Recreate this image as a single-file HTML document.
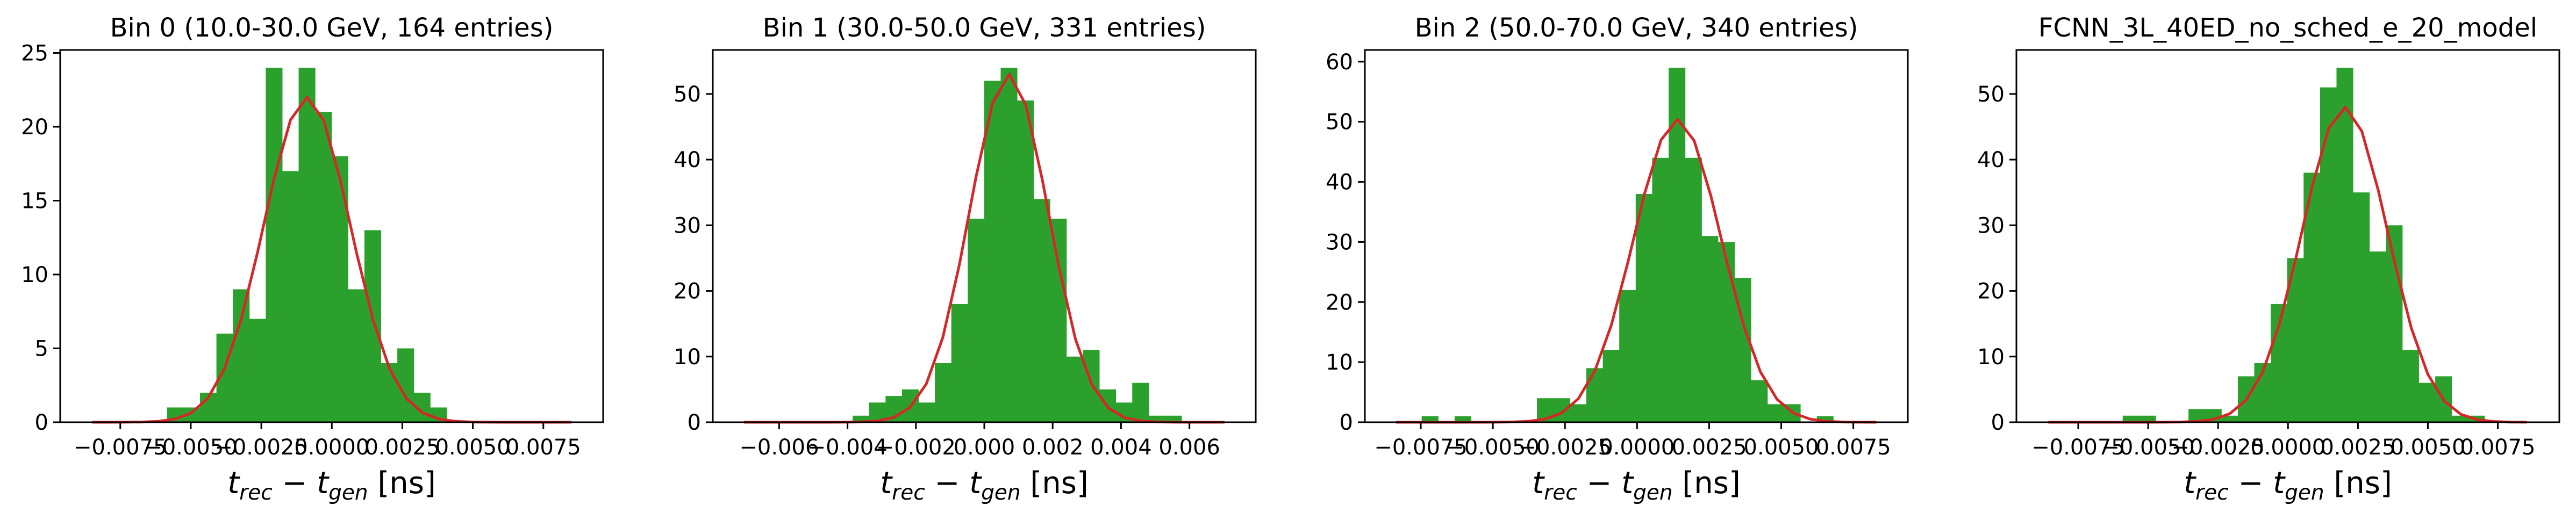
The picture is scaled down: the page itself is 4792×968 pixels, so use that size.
<!DOCTYPE html>
<html><head><meta charset="utf-8"><style>
html,body{margin:0;padding:0;background:#fff;}
svg{display:block;font-family:"DejaVu Sans","Liberation Sans",sans-serif;}
</style></head><body>
<svg id="fig" width="4792" height="968" viewBox="0 0 4792 968" xmlns="http://www.w3.org/2000/svg"></svg>
<script>
// ---- data (top level) ----
const titles = ["Bin 0 (10.0-30.0 GeV, 164 entries)","Bin 1 (30.0-50.0 GeV, 331 entries)","Bin 2 (50.0-70.0 GeV, 340 entries)","FCNN_3L_40ED_no_sched_e_20_model"];
const counts0 = [1,1,2,6,9,7,24,17,24,21,18,9,13,4,5,2,1];
const counts1 = [1,3,4,5,3,9,18,31,52,54,49,34,31,10,11,5,3,6,1,1];
const counts2 = [1,0,1,0,0,0,0,4,4,3,9,12,22,38,44,59,44,31,30,24,7,3,3,0,1];
const counts3 = [1,1,0,0,2,2,1,7,9,18,25,38,51,54,35,26,30,11,6,7,1,1];
const binStart = [-0.00584,-0.00385,-0.00747,-0.00591];
const binWidth = [0.000583,0.000481,0.000571,0.000588];
// gaussian fit parameters per panel: amplitude, mean, sigma, curve range
const fitAmp = [22.0,53.0,50.4,48.0];
const fitMean = [-0.00088,0.00072,0.0014,0.00203];
const fitSigma = [0.00154,0.00115,0.00152,0.00153];
const curveMin = [-0.0085,-0.00703,-0.00836,-0.00857];
const curveMax = [0.0085,0.00703,0.0083,0.00854];
const curveN = 30;
const xDomainMin = [-0.00963,-0.00794,-0.00944,-0.00971];
const xDomainMax = [0.00962,0.00794,0.00939,0.00970];
const yDomainMax = [25.2,56.7,61.95,56.7];
const xTicks0 = [-0.0075,-0.005,-0.0025,0,0.0025,0.005,0.0075];
const xTickLabels0 = ["\u22120.0075","\u22120.0050","\u22120.0025","0.0000","0.0025","0.0050","0.0075"];
const xTicks1 = [-0.006,-0.004,-0.002,0,0.002,0.004,0.006];
const xTickLabels1 = ["\u22120.006","\u22120.004","\u22120.002","0.000","0.002","0.004","0.006"];
const yTicks0 = [0,5,10,15,20,25];
const yTicks1 = [0,10,20,30,40,50];
const yTicks2 = [0,10,20,30,40,50,60];

const allCounts=[counts0,counts1,counts2,counts3];
const allXT=[xTicks0,xTicks1,xTicks0,xTicks0];
const allXL=[xTickLabels0,xTickLabels1,xTickLabels0,xTickLabels0];
const allYT=[yTicks0,yTicks1,yTicks2,yTicks1];
const panelLeft=[112,1326,2539,3751];
const PW=1010, TOP=93, BOT=786;
const NS="http://www.w3.org/2000/svg";
const svg=document.getElementById('fig');
function mk(tag,attrs,parent){const e=document.createElementNS(NS,tag);for(const k in attrs)e.setAttribute(k,attrs[k]);(parent||svg).appendChild(e);return e;}

for(let p=0;p<4;p++){
  const L=panelLeft[p],R=L+PW;
  const xs=v=>L+(v-xDomainMin[p])/(xDomainMax[p]-xDomainMin[p])*PW;
  const ys=v=>BOT-v/yDomainMax[p]*(BOT-TOP);
  const g=mk('g',{});
  
  
  // bars
  allCounts[p].forEach((c,i)=>{
    if(c<=0)return;
    const x0=xs(binStart[p]+i*binWidth[p]),x1=xs(binStart[p]+(i+1)*binWidth[p]);
    const r=mk('rect',{x:x0,y:ys(c),width:x1-x0+0.5,height:BOT-ys(c),fill:'#2ca02c'},g);
    
    
  });
  // fit curve
  let pts=[];
  for(let i=0;i<curveN;i++){
    const x=curveMin[p]+(curveMax[p]-curveMin[p])*i/(curveN-1);
    const y=fitAmp[p]*Math.exp(-0.5*Math.pow((x-fitMean[p])/fitSigma[p],2));
    pts.push(xs(x).toFixed(1)+','+ys(y).toFixed(1));
  }
  const pl=mk('polyline',{points:pts.join(' '),fill:'none',stroke:'#d62728','stroke-width':5,'stroke-linejoin':'round'},g);
  
  
  // frame
  const fr=mk('rect',{x:L,y:TOP,width:PW,height:BOT-TOP,fill:'none',stroke:'#000','stroke-width':3},g);
  
  
  // x ticks
  allXT[p].forEach((t,i)=>{
    const x=xs(t);
    mk('line',{x1:x,x2:x,y1:BOT,y2:BOT+13,stroke:'#000','stroke-width':3},g);
    const tx=mk('text',{x:x,y:846,'font-size':40,'text-anchor':'middle',fill:'#000'},g);
    tx.textContent=allXL[p][i];
    
    
  });
  // y ticks
  allYT[p].forEach(t=>{
    const y=ys(t);
    mk('line',{x1:L-13,x2:L,y1:y,y2:y,stroke:'#000','stroke-width':3},g);
    const ty=mk('text',{x:L-22,y:y+14,'font-size':40,'text-anchor':'end',fill:'#000'},g);
    ty.textContent=String(t);
    
    
  });
  // title
  const ti=mk('text',{x:L+PW/2,y:68,'font-size':48,'text-anchor':'middle',fill:'#000'},g);
  ti.textContent=titles[p];
  
  
  // x label
  const xl=mk('text',{x:L+PW/2,y:918,'font-size':56,'text-anchor':'middle',fill:'#000'},g);
  
  
  xl.innerHTML='<tspan font-style="italic">t</tspan><tspan font-style="italic" font-size="39" dy="12">rec</tspan><tspan dy="-12"> \u2212 </tspan><tspan font-style="italic">t</tspan><tspan font-style="italic" font-size="39" dy="12">gen</tspan><tspan dy="-12"> [ns]</tspan>';
}
</script>
</body></html>
